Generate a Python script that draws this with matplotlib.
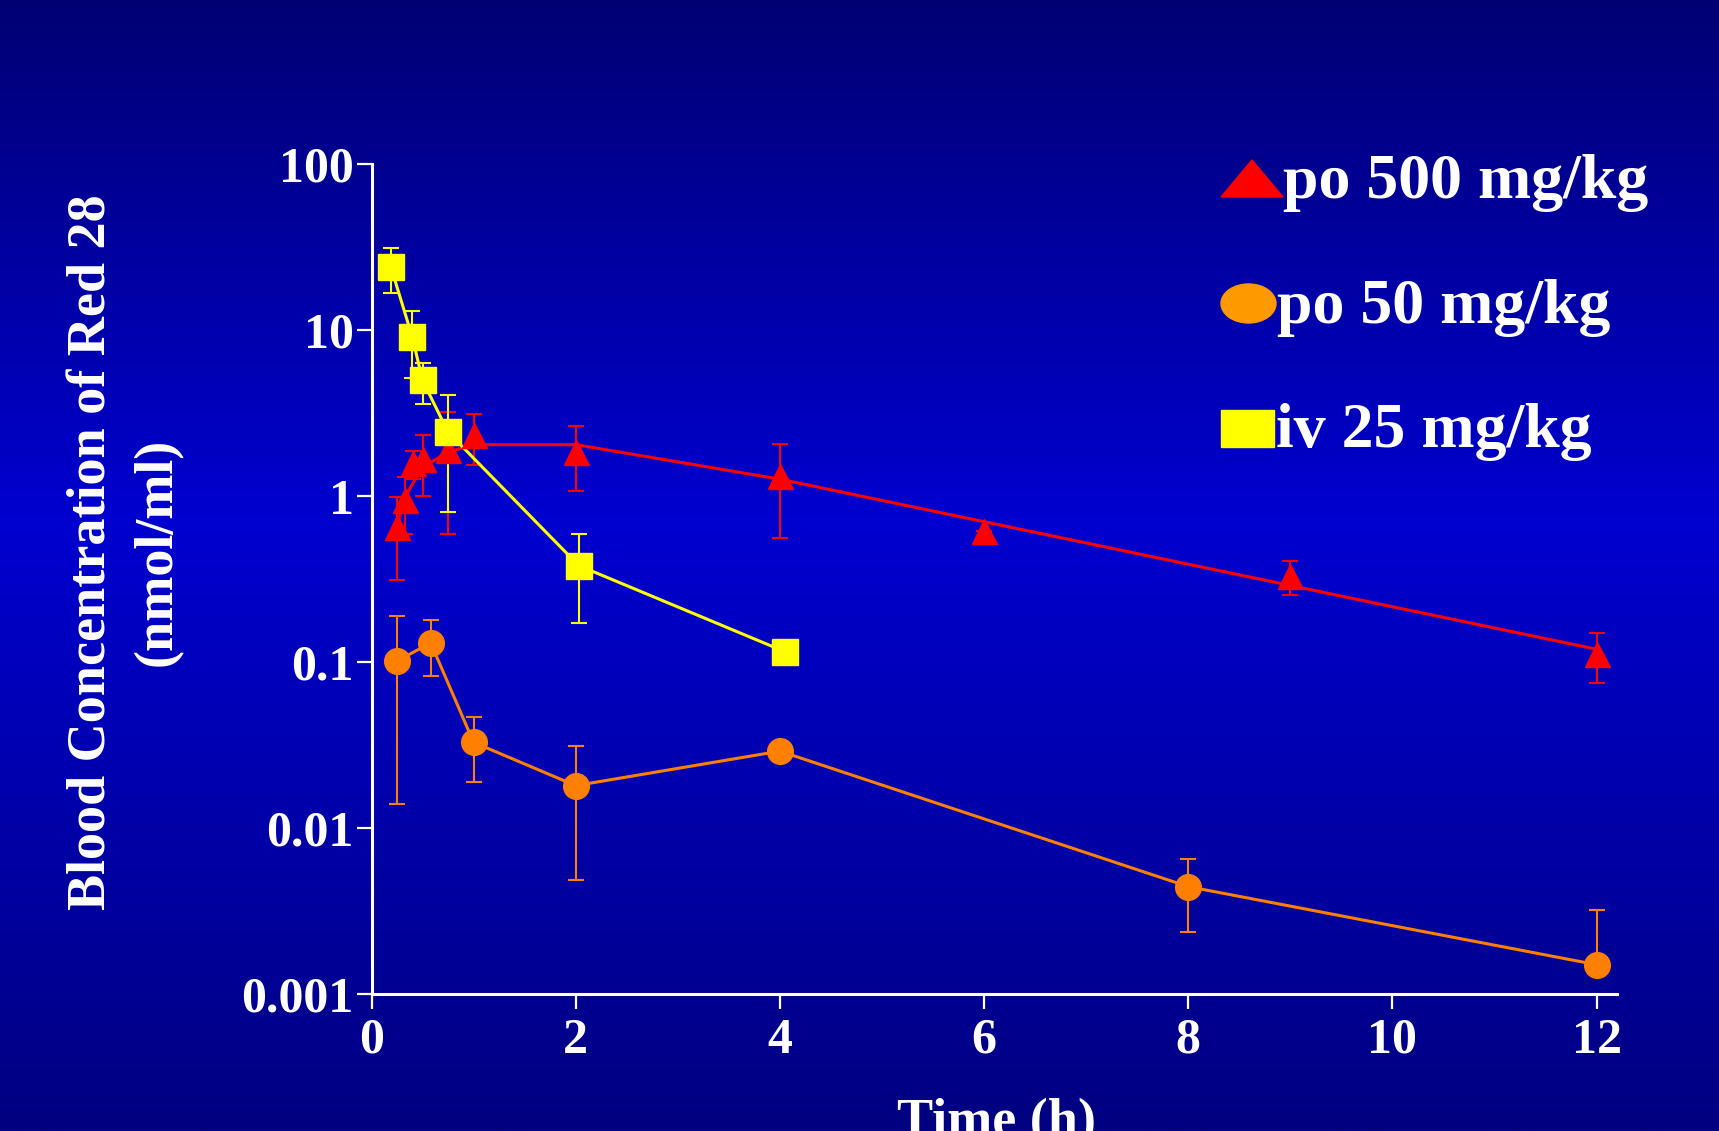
import numpy as np
import matplotlib
matplotlib.use("Agg")
import matplotlib.pyplot as plt
from matplotlib.patches import Polygon, Ellipse, Rectangle

# po 500 mg/kg (mean, SD)
t_po500 = [0.25, 0.33, 0.41, 0.5, 0.75, 1, 2, 4, 6, 9, 12]
c_po500 = [0.655, 0.95, 1.58, 1.67, 1.9, 2.34, 1.86, 1.32, 0.615, 0.33, 0.113]
sd_po500 = [0.34, 0.36, 0.3, 0.67, 1.31, 0.8, 0.78, 0.76, 0, 0.076, 0.038]
# fitted curve drawn for po 500
fit_t_po500 = [0.25, 0.33, 0.5, 0.75, 1, 2, 4, 12]
fit_c_po500 = [0.66, 1.0, 1.5, 1.85, 2.05, 2.05, 1.27, 0.12]

# po 50 mg/kg
t_po50 = [0.25, 0.58, 1, 2, 4, 8, 12]
c_po50 = [0.102, 0.131, 0.033, 0.0181, 0.0292, 0.00446, 0.00151]
sd_po50 = [0.088, 0.048, 0.014, 0.0132, 0, 0.0021, 0.0017]

# iv 25 mg/kg
t_iv25 = [0.19, 0.4, 0.5, 0.75, 2.03, 4.05]
c_iv25 = [24.1, 9.1, 5.0, 2.44, 0.383, 0.116]
sd_iv25 = [7.2, 3.9, 1.4, 1.63, 0.21, 0]

yticks = [0.001, 0.01, 0.1, 1, 10, 100]
ytick_labels = ["0.001", "0.01", "0.1", "1", "10", "100"]
xticks = [0, 2, 4, 6, 8, 10, 12]

legend_labels = ["po 500 mg/kg", "po 50 mg/kg", "iv 25 mg/kg"]
RED, ORANGE, YELLOW = "#FF0000", "#FF8000", "#FFFF00"

W, H = 1719, 1131
plt.rcParams["font.family"] = ["Liberation Serif", "DejaVu Serif"]
plt.rcParams["font.weight"] = "bold"

fig = plt.figure(figsize=(W / 100, H / 100), dpi=100)

# blue gradient background
bg = fig.add_axes([0, 0, 1, 1], zorder=-10)
yy = np.linspace(0, 1, 600)
blue = np.interp(yy, [0, 0.46, 1], [115, 208, 128]) / 255.0
grad = np.zeros((600, 1, 3))
grad[:, 0, 2] = blue
bg.imshow(grad, aspect="auto", extent=[0, 1, 0, 1], origin="upper")
bg.set_axis_off()

ax = fig.add_axes([371.5 / W, 1 - 994.4 / H, (1617 - 371.5) / W, 830 / H])
ax.patch.set_alpha(0)
ax.set_yscale("log")


def lower(c, s):
    c, s = np.array(c), np.array(s)
    return np.where(c - s > 0, s, 0)


ebkw = dict(fmt="none", elinewidth=1.5, capsize=5.8, capthick=1.5, zorder=2)
ax.errorbar(t_po500, c_po500, yerr=[lower(c_po500, sd_po500), sd_po500], ecolor=RED, **ebkw)
ax.errorbar(t_po50, c_po50, yerr=[lower(c_po50, sd_po50), sd_po50], ecolor=ORANGE, **ebkw)
ax.errorbar(t_iv25, c_iv25, yerr=[lower(c_iv25, sd_iv25), sd_iv25], ecolor=YELLOW, **ebkw)

ax.plot(fit_t_po500, fit_c_po500, color=RED, lw=2.2, zorder=3)
ax.plot(t_po50, c_po50, color=ORANGE, lw=2.2, zorder=3)
ax.plot(t_iv25, c_iv25, color=YELLOW, lw=2.2, zorder=3)

ax.plot(t_po500, c_po500, ls="none", marker="^", ms=18, color=RED, mec=RED, zorder=4)
ax.plot(t_po50, c_po50, ls="none", marker="o", ms=18.5, color=ORANGE, mec=ORANGE, zorder=4)
ax.plot(t_iv25, c_iv25, ls="none", marker="s", ms=18.5, color=YELLOW, mec=YELLOW, zorder=4)

ax.set_xlim(0, 12.2)
ax.set_ylim(0.001, 100)
ax.set_xticks(xticks)
ax.set_xticklabels([str(x) for x in xticks])
ax.set_yticks(yticks)
ax.set_yticklabels(ytick_labels)
ax.minorticks_off()

for s in ["top", "right"]:
    ax.spines[s].set_visible(False)
for s in ["left", "bottom"]:
    ax.spines[s].set_color("white")
    ax.spines[s].set_linewidth(2.2)
ax.tick_params(colors="white", direction="out", length=10.8, width=1.6, labelsize=36)
ax.tick_params(axis="y", pad=2)
ax.tick_params(axis="x", pad=6)

# axis titles
fig.text(92 / W, 1 - 552 / H, "Blood Concentration of Red 28", rotation=90,
         ha="center", va="center", color="white", fontsize=39, fontweight="bold")
fig.text(158 / W, 1 - 552 / H, "(nmol/ml)", rotation=90,
         ha="center", va="center", color="white", fontsize=39, fontweight="bold")
fig.text(996 / W, 1 - 1136 / H, "Time (h)", ha="center", va="baseline",
         color="white", fontsize=39, fontweight="bold")

# legend drawn by hand at top right
tf = fig.transFigure
def fx(px):
    return px / W
def fy(py):
    return 1 - py / H

fig.patches.append(Polygon([[fx(1221), fy(197)], [fx(1252), fy(160)], [fx(1283), fy(197)]],
                           closed=True, color=RED, transform=tf))
fig.patches.append(Ellipse((fx(1248.5), fy(303.5)), 55 / W, 39 / H, color="#FF9900", transform=tf))
fig.patches.append(Rectangle((fx(1221), fy(447)), 53 / W, 37 / H, color=YELLOW, transform=tf))

for x0, yb, lab in zip([1283, 1277, 1276], [198, 323, 447], legend_labels):
    fig.text(fx(x0), fy(yb), lab, ha="left", va="baseline", color="white",
             fontsize=46, fontweight="bold")

fig.savefig("out.png", dpi=100)
